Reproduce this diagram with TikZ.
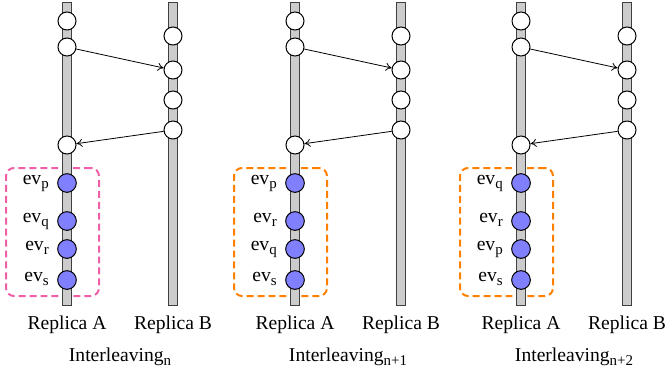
\documentclass[tikz,border=0pt]{standalone}
\usepackage{fontspec}
\setmainfont{Liberation Serif}
\usetikzlibrary{arrows.meta}
\definecolor{barfill}{HTML}{CCCCCC}
\definecolor{evblue}{HTML}{8080FF}
\definecolor{boxpink}{HTML}{EE5FA7}
\definecolor{boxorange}{HTML}{FF8000}
\newcommand\mysub[1]{\raisebox{-3.2pt}{\fontsize{11.2}{13}\selectfont #1}}
\tikzset{
  bar/.style={rectangle, draw=black!75, fill=barfill, line width=0.75pt,
    minimum width=6.75pt, minimum height=227.25pt, inner sep=0pt},
  evt/.style={circle, draw=black, fill=white, line width=0.75pt,
    minimum size=13.5pt, inner sep=0pt},
  evb/.style={evt, fill=evblue, minimum size=14pt},
  msg/.style={-{To[length=4.5pt,width=6pt]}, line width=0.6pt},
  evlabel/.style={anchor=base east, inner sep=0pt},
  lbl/.style={anchor=base, inner sep=0pt},
  grp/.style={rectangle, dashed, line width=1.5pt, dash pattern=on 5.2pt off 3pt,
    rounded corners=6pt, minimum width=69.75pt, minimum height=96pt, inner sep=0pt},
  every node/.style={font=\fontsize{14.7}{17}\selectfont}
}
% #1 x offset, #2 name prefix, #3 box colour, #4-#7 subscripts, #8 interleaving subscript
\newcommand\drawpanel[8]{%
  \node[grp, draw=#3] (#2box) at (52.5+#1,232) {};
  \node[bar] (#2barA) at (67+#1,153.5) {};
  \node[bar] (#2barB) at (173+#1,153.5) {};
  \node[evt] (#2a1) at (67+#1,21) {};
  \node[evt] (#2a2) at (67+#1,47) {};
  \node[evt] (#2a3) at (67+#1,145) {};
  \node[evt] (#2b1) at (173+#1,36) {};
  \node[evt] (#2b2) at (173+#1,70) {};
  \node[evt] (#2b3) at (173+#1,100) {};
  \node[evt] (#2b4) at (173+#1,130) {};
  \draw[msg] (#2a2) -- (#2b2);
  \draw[msg] (#2b4) -- (#2a3);
  \node[evb] (#2e1) at (67+#1,183) {};
  \node[evb] (#2e2) at (67+#1,221) {};
  \node[evb] (#2e3) at (67+#1,249) {};
  \node[evb] (#2e4) at (67+#1,280) {};
  \node[evlabel] (#2l1) at (49+#1,184) {ev\mysub{#4}};
  \node[evlabel] (#2l2) at (49+#1,222) {ev\mysub{#5}};
  \node[evlabel] (#2l3) at (49+#1,250) {ev\mysub{#6}};
  \node[evlabel] (#2l4) at (49+#1,281) {ev\mysub{#7}};
  \node[lbl] (#2ra) at (67+#1,329) {Replica A};
  \node[lbl] (#2rb) at (173+#1,329) {Replica B};
  \node[lbl] (#2il) at (120+#1,361) {Interleaving\mysub{#8}};
}
\begin{document}
\begin{tikzpicture}[x=0.75pt,y=-0.75pt]
  \useasboundingbox (0,0) rectangle (666,376);
  \drawpanel{0}{p}{boxpink}{p}{q}{r}{s}{n}
  \drawpanel{228}{q}{boxorange}{p}{r}{q}{s}{n+1}
  \drawpanel{454}{r}{boxorange}{q}{r}{p}{s}{n+2}
\end{tikzpicture}
\end{document}
